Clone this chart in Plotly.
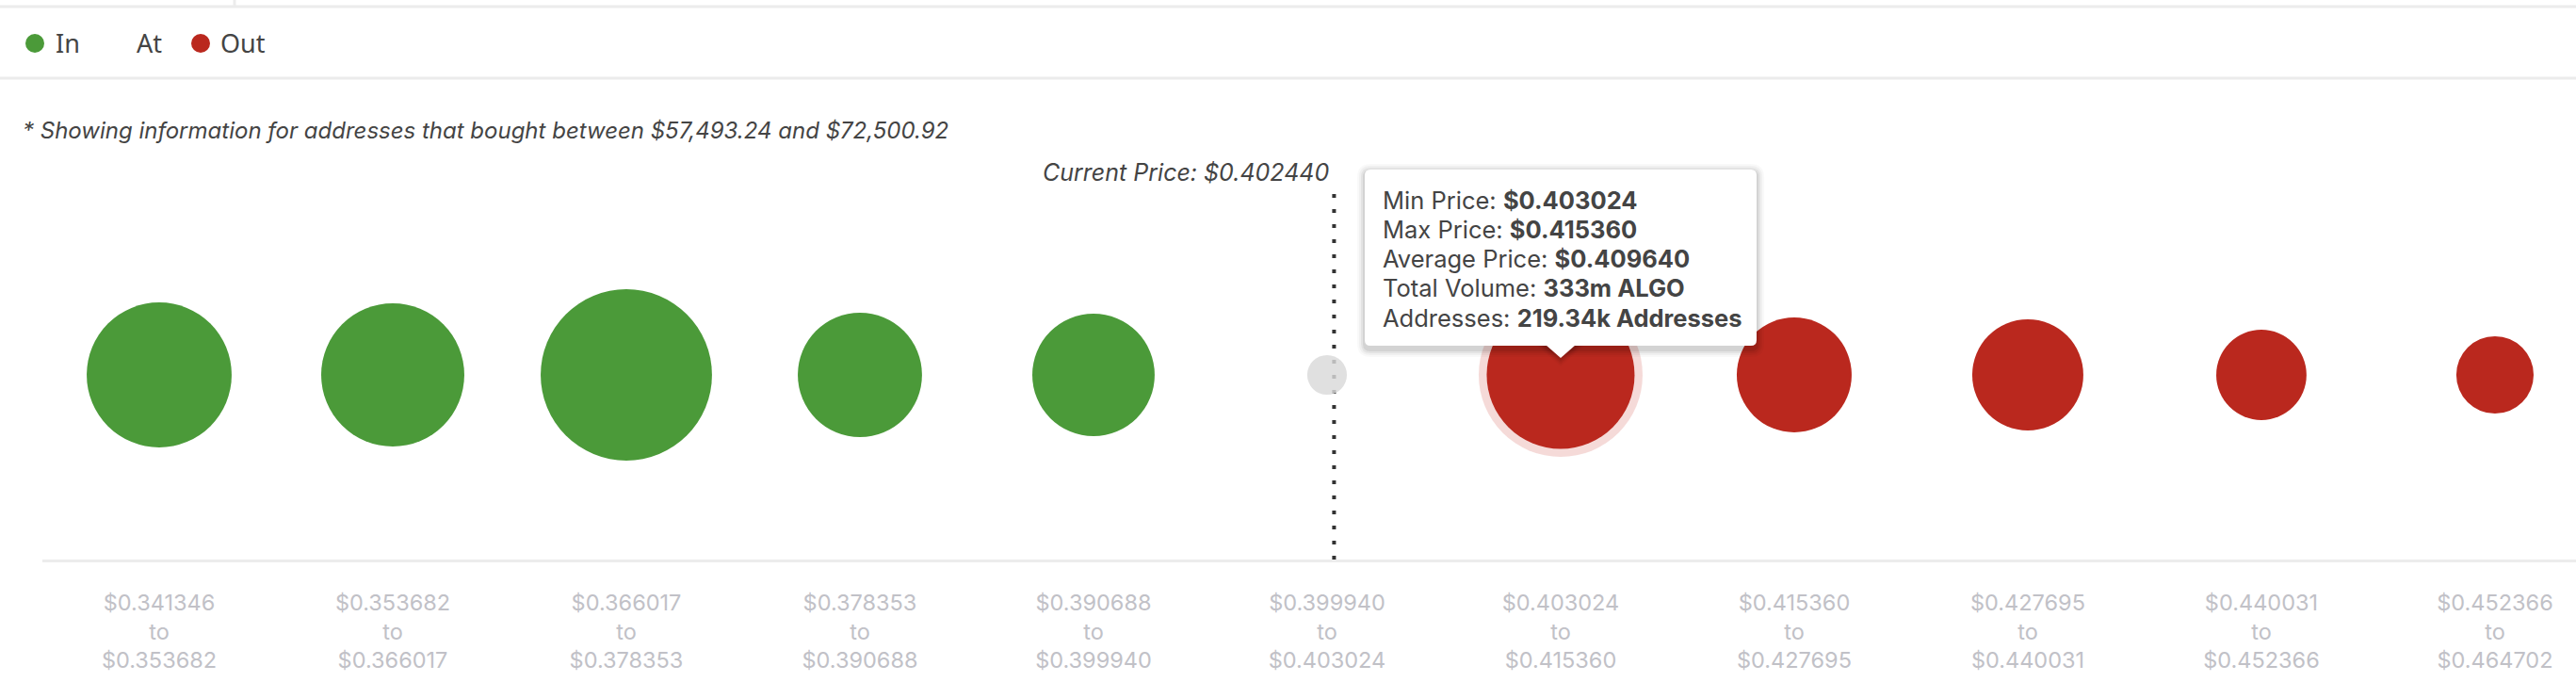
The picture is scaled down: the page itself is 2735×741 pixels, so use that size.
import plotly.graph_objects as go

# ---------------- data ----------------
bin_low = [0.341346, 0.353682, 0.366017, 0.378353, 0.390688, 0.399940,
           0.403024, 0.415360, 0.427695, 0.440031, 0.452366]
bin_high = [0.353682, 0.366017, 0.378353, 0.390688, 0.399940, 0.403024,
            0.415360, 0.427695, 0.440031, 0.452366, 0.464702]
status = ["In", "In", "In", "In", "In", "At", "Out", "Out", "Out", "Out", "Out"]
volume_m = [320, 312, 447, 235, 228, 24, 333, 201, 188, 124, 91]  # million ALGO (estimated)

current_price = 0.402440
hover_index = 6
hover_avg_price = 0.409640
hover_volume = "333m ALGO"
hover_addresses = "219.34k Addresses"
range_low_usd = "$57,493.24"
range_high_usd = "$72,500.92"

# ---------------- geometry / style ----------------
W, H = 2735, 741
L, R, T, B = 45, 0, 202, 147
PW, PH = W - L - R, H - T - B

def px(x):
    return (x - L) / PW

def py(y):
    return (H - B - y) / PH

GREEN = "#4b9a39"
RED = "#ba281e"
GREY = "rgba(217,217,217,0.82)"
HALO = "#f1cac7"
TXT = "#444444"

colors = {"In": GREEN, "At": GREY, "Out": RED}
xs = list(range(len(bin_low)))
ticktext = [f"${lo:.6f}<br>to<br>${hi:.6f}" for lo, hi in zip(bin_low, bin_high)]

max_diam = 157  # px diameter of the hovered bubble (333m)
sizeref = 2.0 * volume_m[hover_index] / max_diam ** 2

fig = go.Figure()

# halo behind hovered bubble
halo_scale = (174 / 157) ** 2
fig.add_trace(go.Scatter(
    x=[xs[hover_index]], y=[0], mode="markers",
    marker=dict(size=[volume_m[hover_index] * halo_scale], sizemode="area",
                sizeref=sizeref, color=HALO, line=dict(width=0)),
    showlegend=False, hoverinfo="skip"))

fig.add_trace(go.Scatter(
    x=xs, y=[0] * len(xs), mode="markers",
    marker=dict(size=volume_m, sizemode="area", sizeref=sizeref,
                color=[colors[s] for s in status], line=dict(width=0), opacity=1),
    showlegend=False, hoverinfo="skip"))

# current price position (inside the "At" bin)
cp_idx = next(i for i, (lo, hi) in enumerate(zip(bin_low, bin_high)) if lo <= current_price < hi)
cp_x = cp_idx + 0.03

shapes = []
# page chrome lines
shapes.append(dict(type="line", xref="paper", yref="paper", x0=px(0), x1=px(W), y0=py(7), y1=py(7),
                   line=dict(color="#ececec", width=3), layer="above"))
shapes.append(dict(type="line", xref="paper", yref="paper", x0=px(0), x1=px(W), y0=py(83), y1=py(83),
                   line=dict(color="#ececec", width=3), layer="above"))
shapes.append(dict(type="line", xref="paper", yref="paper", x0=px(249), x1=px(249), y0=py(0), y1=py(7),
                   line=dict(color="#ececec", width=3), layer="above"))
# legend markers
shapes.append(dict(type="circle", xref="paper", yref="paper", x0=px(27), x1=px(47), y0=py(56), y1=py(36),
                   fillcolor=GREEN, line=dict(width=0)))
shapes.append(dict(type="circle", xref="paper", yref="paper", x0=px(203), x1=px(223), y0=py(56), y1=py(36),
                   fillcolor=RED, line=dict(width=0)))
# current price dotted line
shapes.append(dict(type="line", xref="x", yref="paper", x0=cp_x, x1=cp_x, y0=py(594), y1=py(203),
                   line=dict(color="#333333", width=4, dash="4px,12px"), layer="below"))

# tooltip
def rrect(x0, y0, x1, y1, r):
    pts = [
        f"M{px(x0 + r)},{py(y0)}",
        f"L{px(x1 - r)},{py(y0)}",
        f"Q{px(x1)},{py(y0)} {px(x1)},{py(y0 + r)}",
        f"L{px(x1)},{py(y1 - r)}",
        f"Q{px(x1)},{py(y1)} {px(x1 - r)},{py(y1)}",
        f"L{px(x0 + r)},{py(y1)}",
        f"Q{px(x0)},{py(y1)} {px(x0)},{py(y1 - r)}",
        f"L{px(x0)},{py(y0 + r)}",
        f"Q{px(x0)},{py(y0)} {px(x0 + r)},{py(y0)}",
        "Z",
    ]
    return " ".join(pts)

bx0, by0, bx1, by1 = 1449, 180, 1865, 367
ax_c = 1657
for k, a in [(8, 0.025), (6, 0.035), (4, 0.05), (2, 0.07)]:
    shapes.append(dict(type="path", xref="paper", yref="paper",
                       path=rrect(bx0 - k, by0 - k + 2, bx1 + k, by1 + k + 4, 6 + k),
                       fillcolor=f"rgba(0,0,0,{a})", line=dict(width=0), layer="above"))
    shapes.append(dict(type="path", xref="paper", yref="paper",
                       path=f"M{px(ax_c - 17 - k)},{py(by1)} L{px(ax_c + 17 + k)},{py(by1)} L{px(ax_c)},{py(381 + k)} Z",
                       fillcolor=f"rgba(0,0,0,{a})", line=dict(width=0), layer="above"))
shapes.append(dict(type="path", xref="paper", yref="paper", path=rrect(bx0, by0, bx1, by1, 6),
                   fillcolor="white", line=dict(width=0), layer="above"))
shapes.append(dict(type="path", xref="paper", yref="paper",
                   path=f"M{px(ax_c - 16)},{py(by1 - 1)} L{px(ax_c + 16)},{py(by1 - 1)} L{px(ax_c)},{py(380)} Z",
                   fillcolor="white", line=dict(width=0), layer="above"))

lo, hi = bin_low[hover_index], bin_high[hover_index]
tip_lines = [
    ("Min Price: ", f"${lo:.6f}"),
    ("Max Price: ", f"${hi:.6f}"),
    ("Average Price: ", f"${hover_avg_price:.6f}"),
    ("Total Volume: ", hover_volume),
    ("Addresses: ", hover_addresses),
]

annotations = [
    dict(text="In", x=px(57), y=py(46), xref="paper", yref="paper", xanchor="left", yanchor="middle",
         showarrow=False, font=dict(family="Noto Sans", size=27, color=TXT)),
    dict(text="At", x=px(143), y=py(46), xref="paper", yref="paper", xanchor="left", yanchor="middle",
         showarrow=False, font=dict(family="Noto Sans", size=27, color=TXT)),
    dict(text="Out", x=px(232), y=py(46), xref="paper", yref="paper", xanchor="left", yanchor="middle",
         showarrow=False, font=dict(family="Noto Sans", size=27, color=TXT)),
    dict(text=f"<i>* Showing information for addresses that bought between {range_low_usd} and {range_high_usd}</i>",
         x=px(22), y=py(138), xref="paper", yref="paper", xanchor="left", yanchor="middle",
         showarrow=False, font=dict(family="Inter", size=24, color=TXT)),
    dict(text=f"<i>Current Price: ${current_price:.6f}</i>",
         x=px(1414), y=py(183), xref="paper", yref="paper", xanchor="right", yanchor="middle",
         showarrow=False, font=dict(family="Inter", size=25, color=TXT)),
]
for i, (lab, val) in enumerate(tip_lines):
    annotations.append(dict(text=f"{lab}<b>{val}</b>", x=px(1466), y=py(212 + 31.3 * i),
                            xref="paper", yref="paper", xanchor="left", yanchor="middle",
                            align="left", showarrow=False,
                            font=dict(family="Inter", size=25.5, color=TXT)))

fig.update_layout(
    width=W, height=H,
    margin=dict(l=L, r=R, t=T, b=B, pad=0),
    paper_bgcolor="white", plot_bgcolor="white",
    showlegend=False, hovermode=False,
    shapes=shapes, annotations=annotations,
    xaxis=dict(range=[-0.5, 10.347], tickmode="array", tickvals=xs, ticktext=ticktext,
               showgrid=False, zeroline=False, showline=True, linecolor="#ececec", linewidth=3,
               ticks="", ticklabelstandoff=23,
               tickfont=dict(family="Inter", size=23.5, color="#c1c1c7"), fixedrange=True),
    yaxis=dict(range=[-1, 1], visible=False, fixedrange=True),
)

fig.write_html("out.html", config={"displayModeBar": False},
               post_script="document.body.style.margin='0px';document.body.style.padding='0px';")
